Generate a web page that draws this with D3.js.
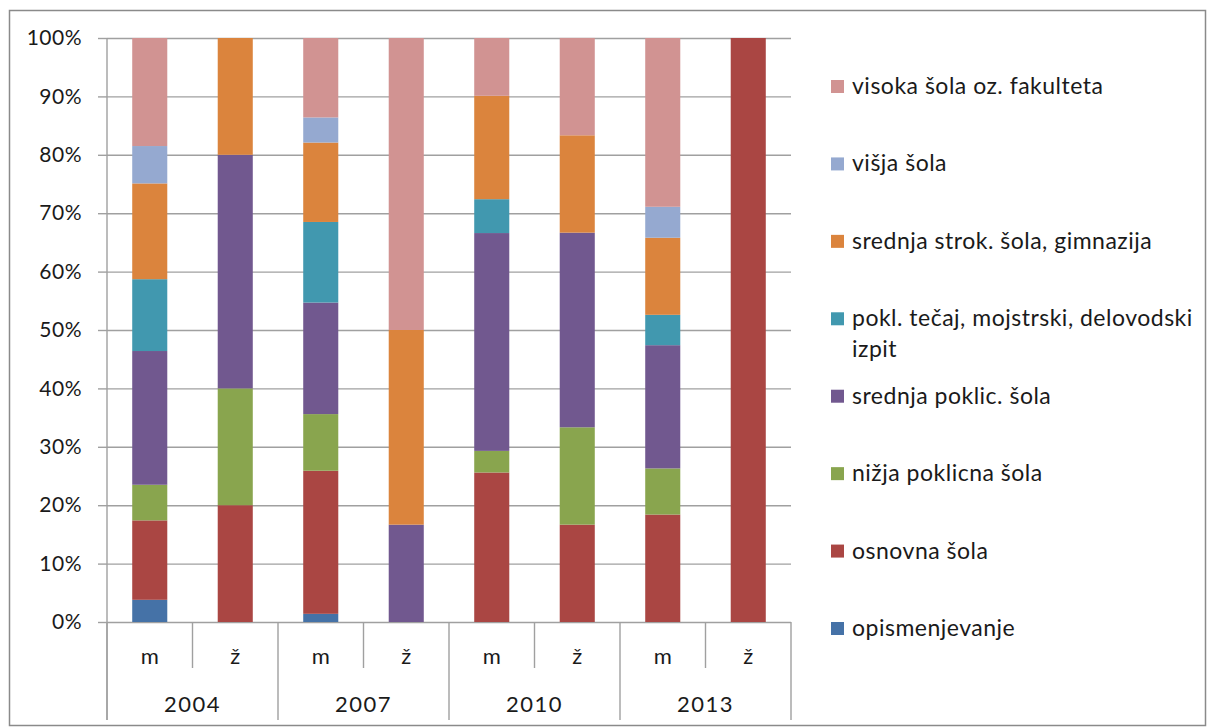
<!DOCTYPE html>
<meta charset="utf-8">
<style>
    body { margin: 0; background: #fff; }
    text { font-family: Lato, "Liberation Sans", sans-serif; fill: #1a1a1a; }
    .grid line { stroke: #a0a0a0; stroke-width: 1.4; }
    .grid path { display: none; }
    .axis path { display: none; }
    .axis line { stroke: #a0a0a0; stroke-width: 1.4; }
</style>
<svg width="1208" height="728"></svg>
<script src="https://cdn.jsdelivr.net/npm/d3@7"></script>
<script>
    // categories: spol (m / ž) po letih
    var years = ["2004", "2007", "2010", "2013"];
    var sexes = ["m", "ž"];
    var categories = ["2004 m", "2004 ž", "2007 m", "2007 ž", "2010 m", "2010 ž", "2013 m", "2013 ž"];

    // series from bottom to top of the stack, values in %
    var opismenjevanje = [3.8, 0, 1.4, 0, 0, 0, 0, 0];
    var osnovna = [13.6, 20, 24.5, 0, 25.6, 16.67, 18.4, 100];
    var nizjaPoklicna = [6.1, 20, 9.7, 0, 3.7, 16.67, 7.9, 0];
    var srednjaPoklic = [22.9, 40, 19.1, 16.67, 37.3, 33.33, 21.1, 0];
    var poklTecaj = [12.3, 0, 13.8, 0, 5.8, 0, 5.2, 0];
    var srednjaStrok = [16.4, 20, 13.6, 33.33, 17.7, 16.67, 13.2, 0];
    var visja = [6.4, 0, 4.3, 0, 0, 0, 5.3, 0];
    var visoka = [18.5, 0, 13.6, 50, 9.9, 16.67, 28.9, 0];

    var seriesNames = ["opismenjevanje", "osnovna šola", "nižja poklicna šola", "srednja poklic. šola",
        "pokl. tečaj, mojstrski, delovodski izpit", "srednja strok. šola, gimnazija", "višja šola",
        "visoka šola oz. fakulteta"];
    var seriesValues = [opismenjevanje, osnovna, nizjaPoklicna, srednjaPoklic, poklTecaj, srednjaStrok, visja, visoka];
    var colors = ["#4572A7", "#AA4643", "#89A54E", "#71588F", "#4198AF", "#DB843D", "#95A9D0", "#D19392"];
    var yTicks = [0, 10, 20, 30, 40, 50, 60, 70, 80, 90, 100];

    var svg = d3.select("svg"),
        margin = { top: 38, left: 107, right: 417, bottom: 106 },
        width = +svg.attr("width") - margin.left - margin.right,
        height = +svg.attr("height") - margin.top - margin.bottom;

    // outer frame
    svg.append("rect")
        .attr("x", 9.5).attr("y", 10.5)
        .attr("width", 1196).attr("height", 715)
        .attr("fill", "none")
        .attr("stroke", "#8a8a8a")
        .attr("stroke-width", 1.5);

    var rows = categories.map(function (c, i) {
        var r = { cat: c };
        seriesNames.forEach(function (s, j) { r[s] = seriesValues[j][i]; });
        return r;
    });

    var stack = d3.stack().keys(seriesNames)(rows);

    var x = d3.scaleBand().domain(categories).range([0, width])
        .paddingInner(0.59).paddingOuter(0.295);
    var xStep = d3.scaleBand().domain(categories).range([0, width]);
    var y = d3.scaleLinear().domain([0, 100]).range([height, 0]);
    var color = d3.scaleOrdinal().domain(seriesNames).range(colors);

    var g = svg.append("g")
        .attr("transform", "translate(" + margin.left + "," + margin.top + ")");

    // gridlines
    g.append("g")
        .attr("class", "grid")
        .call(d3.axisLeft(y).tickValues(yTicks).tickSize(-width).tickFormat(""));

    // y axis with outside ticks
    var yAxis = g.append("g")
        .attr("class", "axis")
        .call(d3.axisLeft(y).tickValues(yTicks).tickSize(9).tickPadding(16)
            .tickFormat(function (d) { return d + "%"; }));
    yAxis.selectAll("text").style("font-size", "21px").style("letter-spacing", "0.5px");

    // bars
    g.selectAll(".layer")
        .data(stack)
        .enter().append("g")
        .attr("class", "layer")
        .attr("fill", function (d) { return color(d.key); })
        .selectAll("rect")
        .data(function (d) { return d; })
        .enter().append("rect")
        .attr("x", function (d) { return x(d.data.cat); })
        .attr("width", x.bandwidth())
        .attr("y", function (d) { return y(d[1]); })
        .attr("height", function (d) { return y(d[0]) - y(d[1]); });

    // vertical axis line and category separators
    g.append("line")
        .attr("x1", 0).attr("x2", 0).attr("y1", 0).attr("y2", height + 98)
        .attr("stroke", "#a0a0a0").attr("stroke-width", 1.4);

    var edges = d3.range(categories.length + 1);
    g.selectAll(".sep")
        .data(edges)
        .enter().append("line")
        .attr("x1", function (i) { return i * xStep.step(); })
        .attr("x2", function (i) { return i * xStep.step(); })
        .attr("y1", height)
        .attr("y2", function (i) { return height + (i % 2 === 0 ? 98 : 46); })
        .attr("stroke", "#a0a0a0").attr("stroke-width", 1.4);

    // m / ž labels
    g.selectAll(".sexLabel")
        .data(categories)
        .enter().append("text")
        .attr("x", function (c) { return xStep(c) + xStep.bandwidth() / 2; })
        .attr("y", height + 42)
        .attr("text-anchor", "middle")
        .style("font-size", "22px")
        .text(function (c, i) { return sexes[i % 2]; });

    // year labels
    g.selectAll(".yearLabel")
        .data(years)
        .enter().append("text")
        .attr("x", function (yr, i) { return (i * 2 + 1) * xStep.step(); })
        .attr("y", height + 90)
        .attr("text-anchor", "middle")
        .style("font-size", "22px")
        .style("letter-spacing", "1.5px")
        .text(function (yr) { return yr; });

    // legend, top to bottom = reverse of stack
    var legendNames = seriesNames.slice().reverse();
    var ly = d3.scaleLinear().domain([0, legendNames.length - 1]).range([86, 628]);
    var legend = svg.append("g").attr("class", "legend");
    var item = legend.selectAll("g")
        .data(legendNames)
        .enter().append("g")
        .attr("transform", function (d, i) { return "translate(831," + ly(i) + ")"; });

    item.append("rect")
        .attr("x", 0).attr("y", -6)
        .attr("width", 13).attr("height", 13)
        .attr("fill", function (d) { return color(d); });

    item.append("text")
        .attr("x", 21)
        .attr("y", 8)
        .style("font-size", "23px")
        .style("letter-spacing", "0.5px")
        .each(function (d) {
            var t = d3.select(this);
            if (d.indexOf("delovodski") >= 0) {
                t.append("tspan").attr("x", 21).text("pokl. tečaj, mojstrski, delovodski");
                t.append("tspan").attr("x", 21).attr("dy", 31).text("izpit");
            } else {
                t.text(d);
            }
        });
</script>
